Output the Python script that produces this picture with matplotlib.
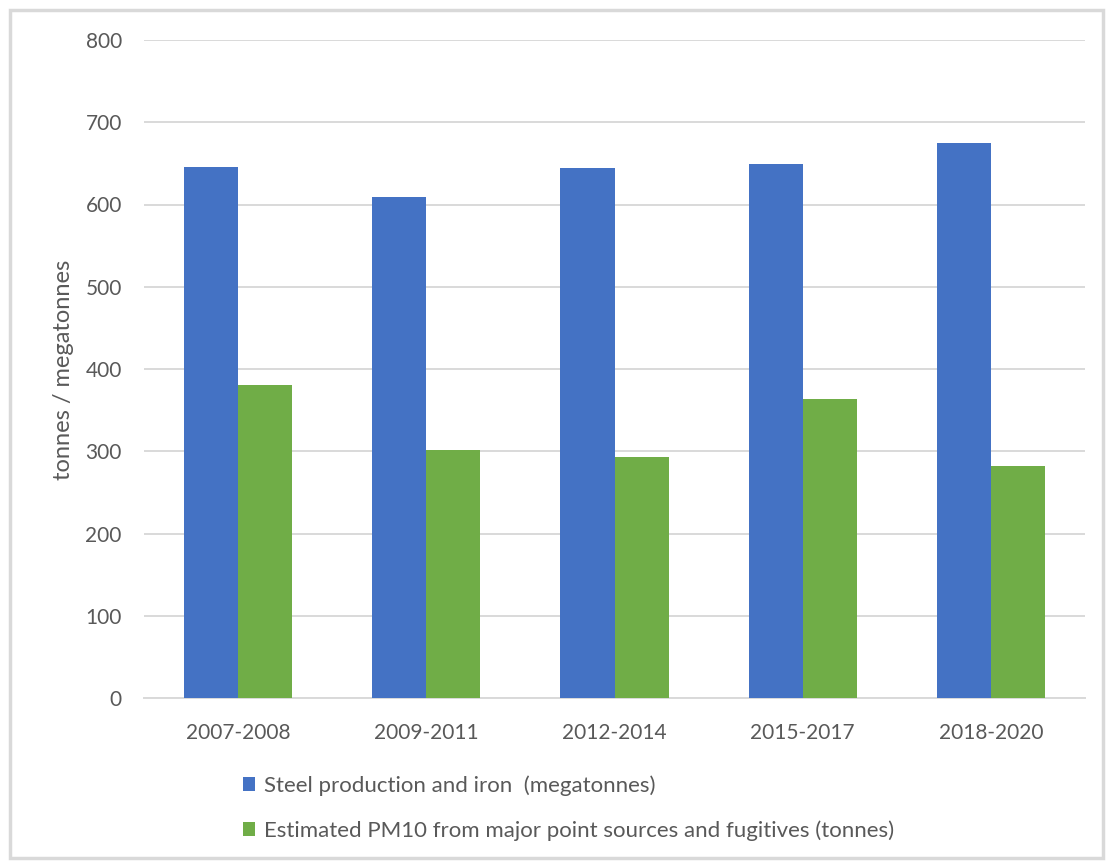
import numpy as np
import matplotlib
matplotlib.use("Agg")
from matplotlib import pyplot as plt
from matplotlib.patches import Rectangle

# data
periods = ["2007-2008", "2009-2011", "2012-2014", "2015-2017", "2018-2020"]
steel = [645, 609, 644, 649, 675]
pm10 = [381, 302, 293, 363, 282]
series_names = ["Steel production and iron  (megatonnes)",
                "Estimated PM10 from major point sources and fugitives (tonnes)"]
yticks = [0, 100, 200, 300, 400, 500, 600, 700, 800]

plt.rcParams['font.family'] = ['Lato', 'DejaVu Sans']
txt = '#595959'

fig = plt.figure(figsize=(11.1, 8.61), dpi=100)
ax = fig.add_axes([144/1110, 163/861, 941/1110, 658/861])

x = np.arange(len(periods))
w = 0.287
ax.bar(x - w/2, steel, w, color='#4472C4', label=series_names[0], zorder=3)
ax.bar(x + w/2, pm10, w, color='#70AD47', label=series_names[1], zorder=3)

ax.set_xlim(-0.5, len(periods) - 0.5)
ax.set_ylim(0, 800)
ax.set_yticks(yticks)
ax.set_xticks(x)
ax.set_xticklabels(periods)
ax.yaxis.grid(True, color='#d9d9d9', linewidth=1.4, zorder=0)
ax.tick_params(axis='both', length=0, colors=txt, labelsize=15)
ax.tick_params(axis='y', pad=16)
ax.tick_params(axis='x', pad=18)
for s in ['top', 'right', 'left']:
    ax.spines[s].set_visible(False)
ax.spines['bottom'].set_color('#d9d9d9')
ax.spines['bottom'].set_linewidth(1.4)

fig.text(63/1110, 1 - 370/861, "tonnes / megatonnes", rotation=90,
         ha='center', va='center', color=txt, fontsize=17)

fig.legend(loc='upper left', bbox_to_anchor=(232/1110, 1 - 764/861),
           frameon=False, ncol=1, fontsize=16, labelcolor=txt,
           handlelength=0.55, handleheight=0.55, handletextpad=0.4,
           labelspacing=1.1, borderpad=0)

# light frame round the whole chart
fig.patches.append(Rectangle((10/1110, 3/861), 1093/1110, 848/861,
                             transform=fig.transFigure, fill=False,
                             edgecolor='#d9d9d9', linewidth=2.5))

fig.savefig("out.png", dpi=100)
